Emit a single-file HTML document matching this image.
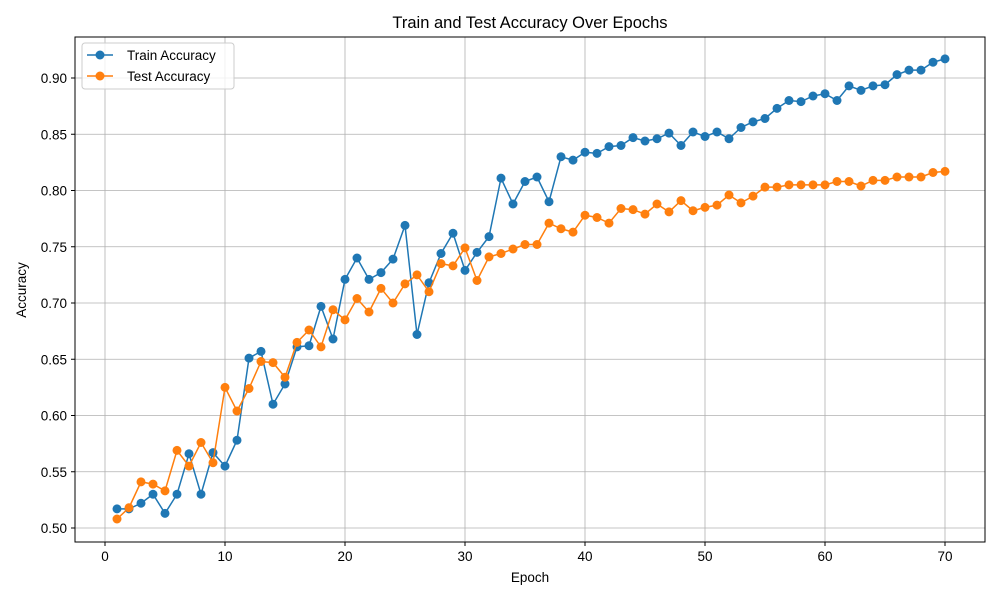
<!DOCTYPE html>
<html><head><meta charset="utf-8"><style>
body{margin:0;background:#fff;}
svg{display:block;font-family:"Liberation Sans","DejaVu Sans",sans-serif;}
</style></head><body>
<svg id="chart" width="1000" height="600" xmlns="http://www.w3.org/2000/svg">
<rect width="1000" height="600" fill="#fff"/>
<g id="grid"></g>
<g id="series"></g>
<rect x="75" y="37" width="910" height="505" fill="none" stroke="#000" stroke-width="1"/>
<g id="ticks"></g>
<text x="530" y="28" text-anchor="middle" font-size="16.5">Train and Test Accuracy Over Epochs</text>
<text x="530" y="582" text-anchor="middle" font-size="13.5">Epoch</text>
<text transform="translate(26,290) rotate(-90)" text-anchor="middle" font-size="13.5">Accuracy</text>
<g>
<rect x="82" y="43" width="152" height="46" rx="3" fill="#fff" fill-opacity="0.8" stroke="#ccc"/>
<g>
<line x1="87" y1="55" x2="113" y2="55" stroke="#1f77b4" stroke-width="1.5"/><circle cx="100" cy="55" r="4.5" fill="#1f77b4"/>
<text x="127" y="60" font-size="13.5">Train Accuracy</text></g>
<g>
<line x1="87" y1="76" x2="113" y2="76" stroke="#ff7f0e" stroke-width="1.5"/><circle cx="100" cy="76" r="4.5" fill="#ff7f0e"/>
<text x="127" y="81" font-size="13.5">Test Accuracy</text></g>
</g>
</svg>
<script>
const trainAcc=[0.517,0.517,0.522,0.530,0.513,0.530,0.566,0.530,0.567,0.555,0.578,0.651,0.657,0.610,0.628,0.661,0.662,0.697,0.668,0.721,0.740,0.721,0.727,0.739,0.769,0.672,0.718,0.744,0.762,0.729,0.745,0.759,0.811,0.788,0.808,0.812,0.790,0.830,0.827,0.834,0.833,0.839,0.840,0.847,0.844,0.846,0.851,0.840,0.852,0.848,0.852,0.846,0.856,0.861,0.864,0.873,0.880,0.879,0.884,0.886,0.880,0.893,0.889,0.893,0.894,0.903,0.907,0.907,0.914,0.917];
const testAcc=[0.508,0.518,0.541,0.539,0.533,0.569,0.555,0.576,0.558,0.625,0.604,0.624,0.648,0.647,0.634,0.665,0.676,0.661,0.694,0.685,0.704,0.692,0.713,0.700,0.717,0.725,0.710,0.735,0.733,0.749,0.720,0.741,0.744,0.748,0.752,0.752,0.771,0.766,0.763,0.778,0.776,0.771,0.784,0.783,0.779,0.788,0.781,0.791,0.782,0.785,0.787,0.796,0.789,0.795,0.803,0.803,0.805,0.805,0.805,0.805,0.808,0.808,0.804,0.809,0.809,0.812,0.812,0.812,0.816,0.817];
const xTicks=[0,10,20,30,40,50,60,70];
const yTicks=[0.50,0.55,0.60,0.65,0.70,0.75,0.80,0.85,0.90];
const NS="http://www.w3.org/2000/svg";
const xs=e=>105+(e)*12;
const ys=v=>528-(v-0.5)*1125;
function mk(tag,attrs,parent){const el=document.createElementNS(NS,tag);for(const k in attrs)el.setAttribute(k,attrs[k]);parent.appendChild(el);return el;}
const grid=document.getElementById('grid'),ticks=document.getElementById('ticks'),series=document.getElementById('series');
xTicks.forEach(t=>{const x=xs(t);
 const g=mk('line',{x1:x,x2:x,y1:37,y2:542,stroke:'#b0b0b0','stroke-width':0.8},grid);
 
 
 mk('line',{x1:x,x2:x,y1:542,y2:546,stroke:'#000'},ticks);
 const l=mk('text',{x:x,y:561,'text-anchor':'middle','font-size':13.5},ticks);l.textContent=t;
 
 
});
yTicks.forEach(t=>{const y=ys(t);
 const g=mk('line',{x1:75,x2:985,y1:y,y2:y,stroke:'#b0b0b0','stroke-width':0.8},grid);
 
 
 mk('line',{x1:71,x2:75,y1:y,y2:y,stroke:'#000'},ticks);
 const l=mk('text',{x:67,y:y+5,'text-anchor':'end','font-size':13.5},ticks);l.textContent=t.toFixed(2);
 
 
});
function drawSeries(vals,color,name){
 const pts=vals.map((v,i)=>xs(i+1)+','+ys(v)).join(' ');
 const pl=mk('polyline',{points:pts,fill:'none',stroke:color,'stroke-width':1.5},series);
 
 
 vals.forEach((v,i)=>{const c=mk('circle',{cx:xs(i+1),cy:ys(v),r:4.5,fill:color},series);
  
  });
}
drawSeries(trainAcc,'#1f77b4','train-accuracy');
drawSeries(testAcc,'#ff7f0e','test-accuracy');
</script>
</body></html>
